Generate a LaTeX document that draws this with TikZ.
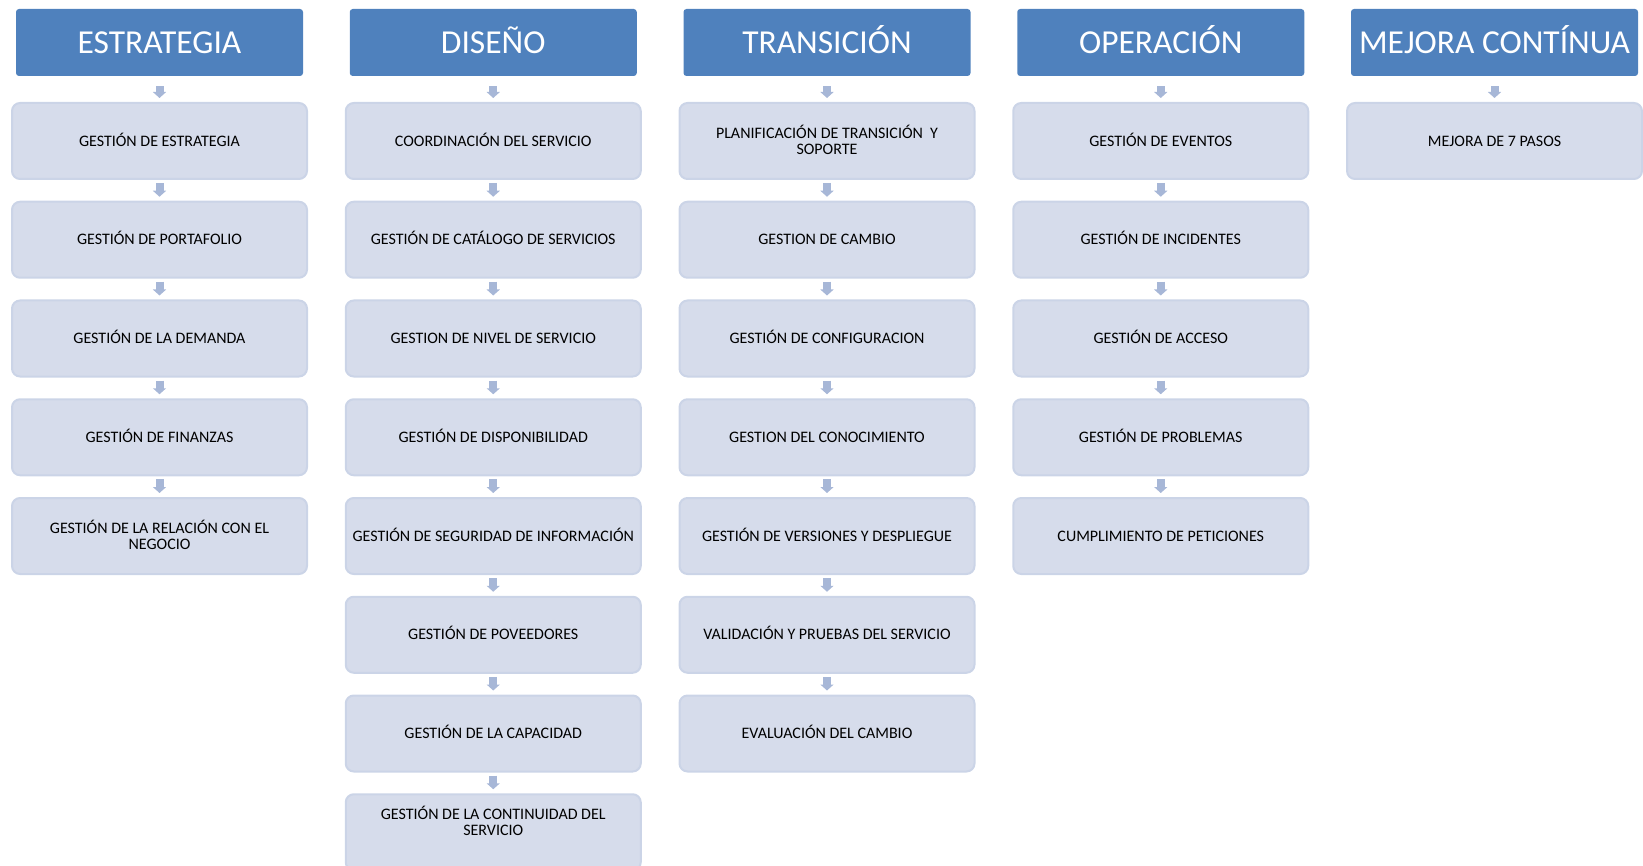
\documentclass[tikz,border=0pt]{standalone}
\usepackage{fontspec}
\setmainfont{Carlito}
\usetikzlibrary{arrows.meta,calc}
\definecolor{hdr}{RGB}{79,129,189}
\definecolor{boxfill}{RGB}{214,220,235}
\definecolor{boxedge}{RGB}{203,212,231}
\definecolor{arr}{RGB}{167,183,215}
\newcommand{\nohgt}[1]{\smash{#1}}
\tikzset{
  hdrbox/.style={fill=hdr, rounded corners=3pt, minimum width=287pt, minimum height=67pt,
    inner sep=0pt, text=white, font=\fontsize{33.5}{36}\selectfont,
    text height=21.6pt, text depth=0pt},
  procboxtwo/.style={fill=boxfill, draw=boxedge, line width=2pt, rounded corners=8pt,
    minimum width=295pt, minimum height=76pt, inner sep=0pt, align=center,
    text=black, font=\fontsize{16}{16}\selectfont},
  procbox/.style={procboxtwo, text height=10.3pt, text depth=0pt},
  proctext/.style={inner sep=0pt, align=center, text=black, font=\fontsize{16}{16}\selectfont},
  flow/.style={draw=arr, line width=8pt, -{Triangle[width=13pt,length=6pt]},
    shorten <=3pt, shorten >=4pt},
  flowtop/.style={flow, shorten <=10pt, shorten >=4pt}
}
\begin{document}
\begin{tikzpicture}[x=1pt, y=-1pt]
\useasboundingbox (0,0) rectangle (1643,866);
\clip (0,0) rectangle (1643,866);
% headers
\node[hdrbox] (h0) at (159.5,42.5) {ESTRATEGIA};
\node[hdrbox] (h1) at (493.25,42.5) {DISEÑO};
\node[hdrbox] (h2) at (827,42.5) {TRANSICIÓN};
\node[hdrbox] (h3) at (1160.75,42.5) {OPERACIÓN};
\node[hdrbox] (h4) at (1494.5,42.5) {MEJORA CONTÍNUA};
% column 0
\node[procbox] (a1) at (159.5,141) {GESTIÓN DE ESTRATEGIA};
\node[procbox] (a2) at (159.5,239.75) {GESTIÓN DE PORTAFOLIO};
\node[procbox] (a3) at (159.5,338.5) {GESTIÓN DE LA DEMANDA};
\node[procbox] (a4) at (159.5,437.25) {GESTIÓN DE FINANZAS};
\node[procboxtwo] (a5) at (159.5,536) {GESTI\nohgt{Ó}N DE LA RELACI\nohgt{Ó}N CON EL\\NEGOCIO};
% column 1
\node[procbox] (b1) at (493.25,141) {COORDINACIÓN DEL SERVICIO};
\node[procbox] (b2) at (493.25,239.75) {GESTIÓN DE CATÁLOGO DE SERVICIOS};
\node[procbox] (b3) at (493.25,338.5) {GESTION DE NIVEL DE SERVICIO};
\node[procbox] (b4) at (493.25,437.25) {GESTIÓN DE DISPONIBILIDAD};
\node[procbox] (b5) at (493.25,536) {GESTIÓN DE SEGURIDAD DE INFORMACIÓN};
\node[procbox] (b6) at (493.25,634.75) {GESTIÓN DE POVEEDORES};
\node[procbox] (b7) at (493.25,733.5) {GESTIÓN DE LA CAPACIDAD};
\node[procbox] (b8) at (493.25,832.25) {};
\node[proctext] (b8t) at ($(b8.north)+(0,29)$) {GESTI\nohgt{Ó}N DE LA CONTINUIDAD DEL\\SERVICIO};
% column 2
\node[procboxtwo] (c1) at (827,141) {PLANIFICACI\nohgt{Ó}N DE TRANSICI\nohgt{Ó}N~ Y\\SOPORTE};
\node[procbox] (c2) at (827,239.75) {GESTION DE CAMBIO};
\node[procbox] (c3) at (827,338.5) {GESTIÓN DE CONFIGURACION};
\node[procbox] (c4) at (827,437.25) {GESTION DEL CONOCIMIENTO};
\node[procbox] (c5) at (827,536) {GESTIÓN DE VERSIONES Y DESPLIEGUE};
\node[procbox] (c6) at (827,634.75) {VALIDACIÓN Y PRUEBAS DEL SERVICIO};
\node[procbox] (c7) at (827,733.5) {EVALUACIÓN DEL CAMBIO};
% column 3
\node[procbox] (d1) at (1160.75,141) {GESTIÓN DE EVENTOS};
\node[procbox] (d2) at (1160.75,239.75) {GESTIÓN DE INCIDENTES};
\node[procbox] (d3) at (1160.75,338.5) {GESTIÓN DE ACCESO};
\node[procbox] (d4) at (1160.75,437.25) {GESTIÓN DE PROBLEMAS};
\node[procbox] (d5) at (1160.75,536) {CUMPLIMIENTO DE PETICIONES};
% column 4
\node[procbox] (e1) at (1494.5,141) {MEJORA DE 7 PASOS};
% arrows
\draw[flowtop] (h0) -- (a1);
\draw[flow] (a1) -- (a2);
\draw[flow] (a2) -- (a3);
\draw[flow] (a3) -- (a4);
\draw[flow] (a4) -- (a5);
\draw[flowtop] (h1) -- (b1);
\draw[flow] (b1) -- (b2);
\draw[flow] (b2) -- (b3);
\draw[flow] (b3) -- (b4);
\draw[flow] (b4) -- (b5);
\draw[flow] (b5) -- (b6);
\draw[flow] (b6) -- (b7);
\draw[flow] (b7) -- (b8);
\draw[flowtop] (h2) -- (c1);
\draw[flow] (c1) -- (c2);
\draw[flow] (c2) -- (c3);
\draw[flow] (c3) -- (c4);
\draw[flow] (c4) -- (c5);
\draw[flow] (c5) -- (c6);
\draw[flow] (c6) -- (c7);
\draw[flowtop] (h3) -- (d1);
\draw[flow] (d1) -- (d2);
\draw[flow] (d2) -- (d3);
\draw[flow] (d3) -- (d4);
\draw[flow] (d4) -- (d5);
\draw[flowtop] (h4) -- (e1);
\end{tikzpicture}
\end{document}
